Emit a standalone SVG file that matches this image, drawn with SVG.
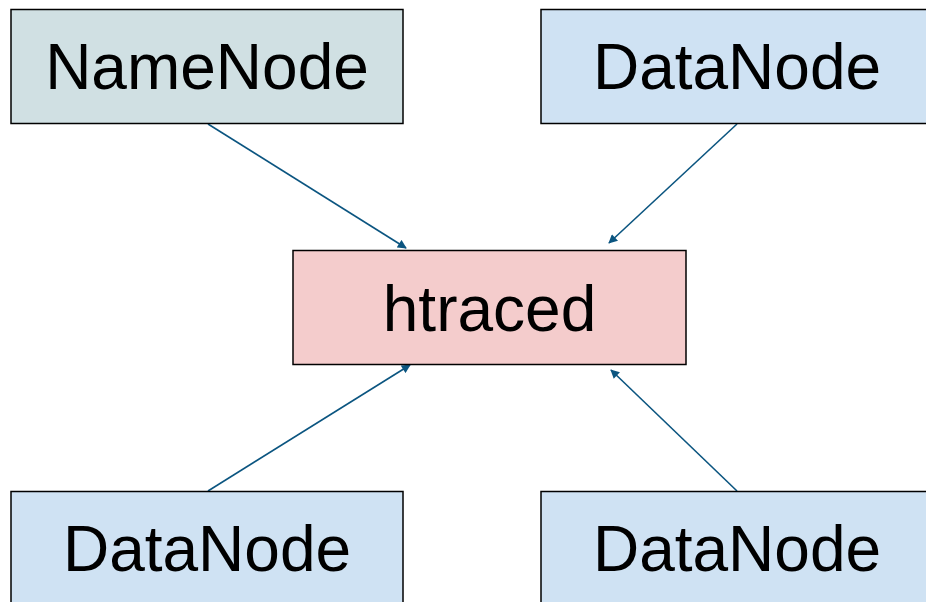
<svg xmlns="http://www.w3.org/2000/svg" width="926" height="602" viewBox="0 0 926 602">
<style>
.box{stroke:#000;stroke-width:1.5}
.nn{fill:#d0e0e3}
.dn{fill:#cfe2f3}
.ht{fill:#f4cccc}
.lbl{font-family:"Liberation Sans",Arial,sans-serif;font-size:64px;fill:#000;text-anchor:middle}
.edge{stroke:#0b5580;stroke-width:1.6;fill:none;marker-end:url(#ah)}
</style>
<defs>
<marker id="ah" viewBox="0 0 10 10" refX="9" refY="5" markerWidth="10" markerHeight="9" markerUnits="userSpaceOnUse" orient="auto">
<path d="M0,0 L10,5 L0,10 z" fill="#0b5580"/>
</marker>
</defs>
<rect width="926" height="602" fill="#fff"/>
<g id="connectors">
<line class="edge" x1="208" y1="124" x2="406" y2="248"/>
<line class="edge" x1="737" y1="124" x2="609" y2="243"/>
<line class="edge" x1="208" y1="491" x2="410" y2="365"/>
<line class="edge" x1="737" y1="491" x2="611" y2="370"/>
</g>
<g id="namenode">
<rect class="box nn" x="11" y="9.5" width="392" height="114"/>
<text class="lbl" x="207" y="89">NameNode</text>
</g>
<g id="datanode-tr">
<rect class="box dn" x="541" y="9.5" width="392" height="114"/>
<text class="lbl" x="737" y="89">DataNode</text>
</g>
<g id="htraced">
<rect class="box ht" x="293" y="250.5" width="393" height="114"/>
<text class="lbl" x="489.5" y="331">htraced</text>
</g>
<g id="datanode-bl">
<rect class="box dn" x="11" y="491.5" width="392" height="114"/>
<text class="lbl" x="207" y="571">DataNode</text>
</g>
<g id="datanode-br">
<rect class="box dn" x="541" y="491.5" width="392" height="114"/>
<text class="lbl" x="737" y="571">DataNode</text>
</g>
</svg>
